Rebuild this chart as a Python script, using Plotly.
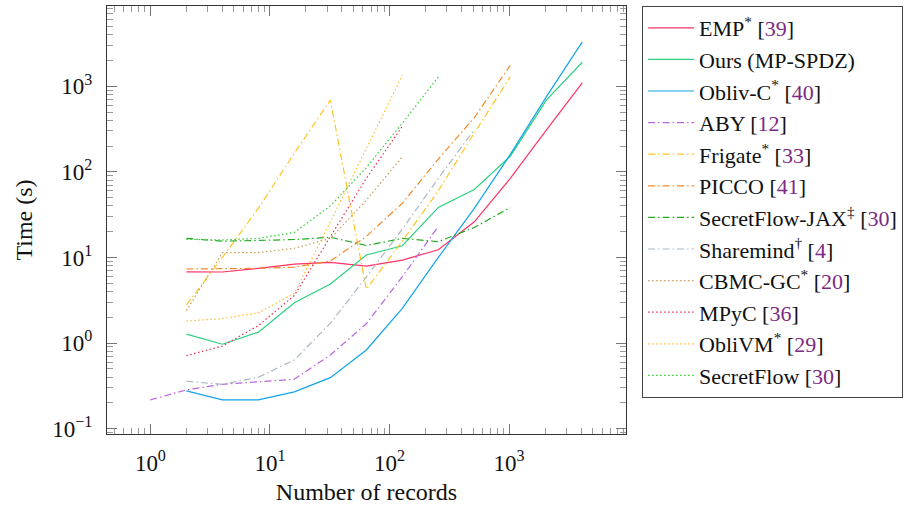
import plotly.graph_objects as go

# ---------------- data ----------------
records = [1, 2, 4, 8, 16, 32, 64, 128, 256, 512, 1024, 2048, 4096]

emp_time = [6.8, 6.76, 7.46, 8.37, 8.77, 7.94, 9.33, 12.3, 26.1, 83.8, 307, 1093]
ours_time = [1.27, 0.97, 1.34, 2.96, 4.9, 10.7, 13.7, 38.4, 62.3, 152, 687, 1905]
oblivc_time = [0.276, 0.217, 0.217, 0.269, 0.395, 0.83, 2.55, 10.0, 37.4, 160, 750, 3290]
aby_time = [0.217, 0.284, 0.330, 0.355, 0.378, 0.726, 1.68, 5.96, 23]
frigate_time = [2.79, 10.0, 37.5, 165, 690, 4.25, 15.5, 60, 285, 1285]
picco_time = [7.33, 7.33, 7.46, 7.7, 9.1, 17.6, 43, 141, 430, 1758]
sfjax_time = [16.7, 15.5, 15.8, 16.2, 17.2, 13.8, 16.7, 15.3, 22.4, 38.4]
sharemind_time = [0.358, 0.330, 0.399, 0.635, 1.70, 5.9, 21.5, 84, 310]
cbmc_time = [2.39, 11.4, 11.4, 12.8, 16.7, 46.7, 150]
mpyc_time = [0.713, 0.925, 1.60, 3.6, 17.5, 84, 340]
oblivm_time = [1.81, 1.93, 2.26, 3.81, 26, 184, 1343]
sf_time = [16.3, 16.0, 16.7, 19.6, 40, 112, 370, 1285]

CITE = "#7b2a84"


def name(label, ref):
    return f"{label} [<span style='color:{CITE}'>{ref}</span>]" if ref else label


series = [
    # label, first-record index, values, colour, dash
    (name("EMP<sup>*</sup>", "39"), 1, emp_time, "#ff3366", "solid"),
    (name("Ours (MP-SPDZ)", None), 1, ours_time, "#2bd17e", "solid"),
    (name("Obliv-C<sup>*</sup>", "40"), 1, oblivc_time, "#14a3e6", "solid"),
    (name("ABY", "12"), 0, aby_time, "#bb66dd", "7px,3px,1.5px,3px"),
    (name("Frigate<sup>*</sup>", "33"), 1, frigate_time, "#ffc424", "7px,3px,1.5px,3px"),
    (name("PICCO", "41"), 1, picco_time, "#f28a2a", "7px,3px,1.5px,3px"),
    (name("SecretFlow-JAX<sup>‡</sup>", "30"), 1, sfjax_time, "#22aa22", "7px,3px,1.5px,3px"),
    (name("Sharemind<sup>†</sup>", "4"), 1, sharemind_time, "#a9b8c4", "7px,3px,1.5px,3px"),
    (name("CBMC-GC<sup>*</sup>", "20"), 1, cbmc_time, "#cc9a5c", "1.5px,2.5px"),
    (name("MPyC", "36"), 1, mpyc_time, "#e8304f", "1.5px,2.5px"),
    (name("ObliVM<sup>*</sup>", "29"), 1, oblivm_time, "#ffbb2e", "1.5px,2.5px"),
    (name("SecretFlow", "30"), 1, sf_time, "#33cc33", "1.5px,2.5px"),
]

fig = go.Figure()
for label, start, vals, color, dash in series:
    fig.add_trace(go.Scatter(
        x=records[start:start + len(vals)], y=vals, mode="lines", name=label,
        line=dict(color=color, width=1.2, dash=dash),
    ))

FONT = "Liberation Serif"
TICK_FS = 23
TITLE_FS = 24
LEG_FS = 22
minor_x = [m * 10 ** e for e in range(-1, 4) for m in range(2, 10)]
minor_y = [m * 10 ** e for e in range(-2, 4) for m in range(2, 10)]

fig.update_xaxes(
    type="log", range=[-0.363, 3.978],
    tickmode="array", tickvals=[1, 10, 100, 1000],
    ticktext=["10<sup>0</sup>", "10<sup>1</sup>", "10<sup>2</sup>", "10<sup>3</sup>"],
    ticks="inside", ticklen=10, tickcolor="#777", tickwidth=1,
    minor=dict(tickmode="array", tickvals=minor_x, ticks="inside", ticklen=6,
               tickcolor="#999", tickwidth=1, showgrid=False),
    showline=True, linecolor="#333", linewidth=1.2, mirror="ticks",
    showgrid=False, zeroline=False, ticklabelstandoff=8,
    tickfont=dict(family=FONT, size=TICK_FS, color="#111"),
    title=dict(text="Number of records", font=dict(family=FONT, size=TITLE_FS, color="#111"), standoff=8),
)
fig.update_yaxes(
    type="log", range=[-1.062, 3.937],
    tickmode="array", tickvals=[0.1, 1, 10, 100, 1000],
    ticktext=["10<sup>−1</sup>", "10<sup>0</sup>", "10<sup>1</sup>", "10<sup>2</sup>", "10<sup>3</sup>"],
    ticks="inside", ticklen=10, tickcolor="#777", tickwidth=1,
    minor=dict(tickmode="array", tickvals=minor_y, ticks="inside", ticklen=6,
               tickcolor="#999", tickwidth=1, showgrid=False),
    showline=True, linecolor="#333", linewidth=1.2, mirror="ticks",
    showgrid=False, zeroline=False, ticklabelstandoff=9,
    tickfont=dict(family=FONT, size=TICK_FS, color="#111"),
    title=dict(text="Time (s)", font=dict(family=FONT, size=TITLE_FS, color="#111"), standoff=12),
)

fig.update_layout(
    width=917, height=506,
    margin=dict(l=107, r=291, t=6, b=72, autoexpand=False),
    plot_bgcolor="white", paper_bgcolor="white",
    font=dict(family=FONT, size=TICK_FS, color="#111"),
    legend=dict(
        x=1.031, y=1.0, xanchor="left", yanchor="top",
        bordercolor="#444", borderwidth=1, bgcolor="white",
        font=dict(family=FONT, size=LEG_FS, color="#111"),
        itemwidth=46, tracegroupgap=0,
    ),
)

fig.write_html("out.html", config={"displayModeBar": False},
               post_script="document.body.style.margin='0px';")
